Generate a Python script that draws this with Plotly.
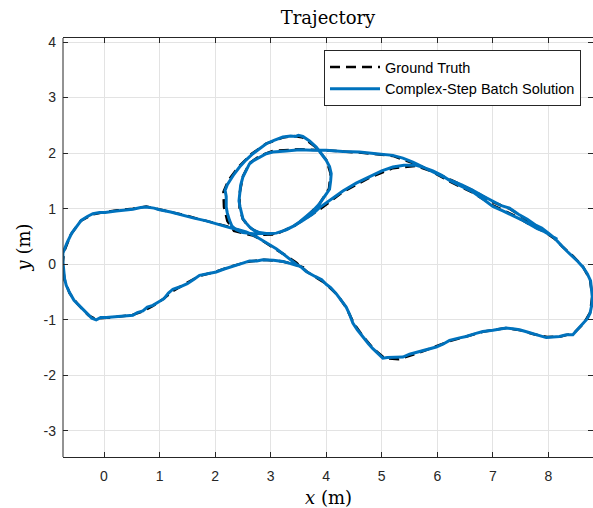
import plotly.graph_objects as go

title_text = "Trajectory"
series_names = ["Ground Truth", "Complex-Step Batch Solution"]
x_ticks = [0, 1, 2, 3, 4, 5, 6, 7, 8]
x_tick_labels = ["0", "1", "2", "3", "4", "5", "6", "7", "8"]
y_ticks = [-3, -2, -1, 0, 1, 2, 3, 4]
y_tick_labels = ["-3", "-2", "-1", "0", "1", "2", "3", "4"]

# Ground truth trajectory (x, y) in metres
gt_xy = [
    (3.60, -0.06), (3.46, -0.01), (3.22, 0.05), (2.88, 0.08), (2.62, 0.05), (2.32, -0.03),
    (2.02, -0.13), (1.72, -0.21), (1.48, -0.34), (1.26, -0.47), (1.06, -0.63), (0.88, -0.75),
    (0.70, -0.85), (0.52, -0.91), (0.20, -0.95), (-0.02, -0.97), (-0.16, -0.98), (-0.28, -0.92),
    (-0.36, -0.84), (-0.48, -0.71), (-0.62, -0.52), (-0.71, -0.28), (-0.745, 0.0), (-0.72, 0.22),
    (-0.60, 0.53), (-0.42, 0.78), (-0.20, 0.90), (0.0, 0.94), (0.24, 0.97), (0.52, 1.00),
    (0.76, 1.04), (1.0, 0.99), (1.42, 0.89), (1.84, 0.78), (2.26, 0.67), (2.56, 0.57),
    (2.76, 0.48), (2.95, 0.36), (3.12, 0.26), (3.30, 0.14), (3.46, 0.03), (3.66, -0.14),
    (3.98, -0.34), (4.20, -0.55), (4.36, -0.78), (4.50, -1.07), (4.68, -1.32), (4.86, -1.53),
    (5.05, -1.69), (5.30, -1.71), (5.68, -1.59), (5.98, -1.48), (6.24, -1.38), (6.52, -1.30),
    (6.84, -1.21), (7.24, -1.15), (7.50, -1.19), (7.74, -1.26), (7.98, -1.31), (8.22, -1.30),
    (8.46, -1.24), (8.64, -1.06), (8.75, -0.87), (8.79, -0.58), (8.75, -0.28), (8.62, -0.04),
    (8.44, 0.15), (8.26, 0.31), (8.10, 0.47), (7.88, 0.63), (7.62, 0.80), (7.30, 1.00),
    (7.00, 1.12), (6.64, 1.33), (6.22, 1.53), (5.86, 1.69), (5.62, 1.80), (5.20, 1.95),
    (4.60, 2.01), (4.00, 2.05), (3.52, 2.07), (3.04, 2.04), (2.80, 1.95), (2.62, 1.82),
    (2.50, 1.58), (2.44, 1.27), (2.44, 1.02), (2.50, 0.81), (2.62, 0.66), (2.80, 0.56),
    (3.10, 0.55), (3.40, 0.67), (3.64, 0.85), (3.88, 1.09), (4.05, 1.36), (4.08, 1.63),
    (4.00, 1.88), (3.82, 2.10), (3.58, 2.28), (3.42, 2.31), (3.22, 2.28), (2.92, 2.17),
    (2.66, 1.99), (2.42, 1.75), (2.24, 1.51), (2.15, 1.30), (2.16, 1.03), (2.22, 0.78),
    (2.34, 0.60), (2.66, 0.52), (3.10, 0.54), (3.42, 0.69), (3.90, 1.00), (4.30, 1.30),
    (4.78, 1.56), (5.20, 1.73), (5.62, 1.77), (5.90, 1.67), (6.22, 1.49), (6.64, 1.29),
    (7.00, 1.06), (7.36, 0.89), (7.66, 0.72), (7.92, 0.59), (8.15, 0.43),
]

# Complex-step batch solution (x, y) in metres
est_xy = [
    (3.55, -0.04), (3.46, -0.02), (3.30, 0.03), (3.22, 0.05), (3.05, 0.07), (2.86, 0.08),
    (2.75, 0.06), (2.62, 0.06), (2.50, 0.02), (2.32, -0.03), (2.15, -0.09), (2.02, -0.14),
    (1.86, -0.17), (1.72, -0.20), (1.62, -0.27), (1.50, -0.35), (1.36, -0.41), (1.24, -0.45),
    (1.16, -0.52), (1.08, -0.62), (0.98, -0.68), (0.88, -0.74), (0.78, -0.77), (0.70, -0.84),
    (0.60, -0.87), (0.52, -0.92), (0.36, -0.93), (0.20, -0.95), (0.04, -0.96), (-0.06, -0.96),
    (-0.14, -1.00), (-0.22, -0.97), (-0.28, -0.91), (-0.34, -0.85), (-0.44, -0.76), (-0.54, -0.65),
    (-0.62, -0.51), (-0.68, -0.38), (-0.71, -0.26), (-0.73, -0.10), (-0.74, 0.05), (-0.74, 0.20),
    (-0.66, 0.40), (-0.58, 0.56), (-0.50, 0.67), (-0.41, 0.79), (-0.30, 0.86), (-0.20, 0.91),
    (-0.08, 0.93), (0.02, 0.93), (0.22, 0.96), (0.40, 0.98), (0.52, 0.99), (0.66, 1.02),
    (0.76, 1.03), (0.90, 1.01), (1.00, 0.98), (1.20, 0.94), (1.42, 0.88), (1.62, 0.83),
    (1.84, 0.78), (2.04, 0.72), (2.26, 0.66), (2.42, 0.62), (2.56, 0.58), (2.70, 0.52),
    (2.82, 0.45), (2.95, 0.37), (3.10, 0.28), (3.22, 0.19), (3.34, 0.10), (3.40, 0.04),
    (3.46, 0.00), (3.56, -0.06), (3.64, -0.13), (3.80, -0.22), (3.92, -0.28), (4.00, -0.36),
    (4.08, -0.42), (4.18, -0.53), (4.28, -0.66), (4.36, -0.77), (4.42, -0.90), (4.48, -1.06),
    (4.56, -1.18), (4.66, -1.31), (4.76, -1.43), (4.84, -1.52), (4.94, -1.62), (5.02, -1.69),
    (5.10, -1.68), (5.26, -1.68), (5.38, -1.67), (5.50, -1.62), (5.68, -1.57), (5.84, -1.53),
    (5.98, -1.49), (6.10, -1.44), (6.22, -1.37), (6.38, -1.33), (6.52, -1.30), (6.68, -1.25),
    (6.82, -1.21), (7.00, -1.19), (7.14, -1.16), (7.24, -1.15), (7.36, -1.16), (7.48, -1.18),
    (7.62, -1.22), (7.72, -1.25), (7.86, -1.29), (7.96, -1.32), (8.08, -1.31), (8.20, -1.30),
    (8.32, -1.27), (8.44, -1.27), (8.52, -1.18), (8.62, -1.07), (8.70, -0.98), (8.75, -0.88),
    (8.78, -0.74), (8.79, -0.59), (8.78, -0.44), (8.76, -0.30), (8.70, -0.17), (8.62, -0.05),
    (8.53, 0.05), (8.44, 0.13), (8.34, 0.23), (8.26, 0.31), (8.18, 0.40), (8.11, 0.47),
    (8.00, 0.56), (7.88, 0.65), (7.76, 0.71), (7.62, 0.81), (7.46, 0.90), (7.30, 1.01),
    (7.14, 1.06), (7.00, 1.13), (6.84, 1.22), (6.64, 1.33), (6.44, 1.43), (6.22, 1.52),
    (6.04, 1.61), (5.86, 1.69), (5.70, 1.78), (5.56, 1.84), (5.38, 1.91), (5.20, 1.96),
    (4.90, 1.99), (4.60, 2.02), (4.30, 2.03), (4.00, 2.05), (3.76, 2.05), (3.52, 2.06),
    (3.28, 2.04), (3.04, 2.02), (2.92, 1.99), (2.80, 1.93), (2.70, 1.87), (2.62, 1.81),
    (2.56, 1.70), (2.50, 1.57), (2.46, 1.42), (2.44, 1.27), (2.43, 1.14), (2.45, 1.03),
    (2.47, 0.92), (2.50, 0.82), (2.56, 0.74), (2.62, 0.67), (2.70, 0.61), (2.80, 0.57),
    (2.95, 0.55), (3.10, 0.56), (3.25, 0.61), (3.40, 0.68), (3.52, 0.76), (3.64, 0.86),
    (3.77, 0.97), (3.88, 1.09), (3.96, 1.20), (4.06, 1.35), (4.08, 1.50), (4.09, 1.63),
    (4.06, 1.76), (4.00, 1.87), (3.92, 1.98), (3.82, 2.11), (3.70, 2.22), (3.62, 2.27),
    (3.58, 2.30), (3.50, 2.32), (3.45, 2.30), (3.36, 2.31), (3.22, 2.29), (3.06, 2.23),
    (2.92, 2.17), (2.80, 2.08), (2.68, 1.99), (2.56, 1.88), (2.44, 1.75), (2.34, 1.62),
    (2.27, 1.51), (2.22, 1.43), (2.18, 1.33), (2.20, 1.22), (2.20, 1.03), (2.22, 0.92),
    (2.26, 0.79), (2.30, 0.69), (2.38, 0.62), (2.50, 0.57), (2.68, 0.55), (2.90, 0.55),
    (3.10, 0.56), (3.28, 0.62), (3.42, 0.69), (3.60, 0.80), (3.75, 0.90), (3.88, 1.02),
    (4.08, 1.16), (4.30, 1.32), (4.54, 1.46), (4.78, 1.58), (5.00, 1.68), (5.20, 1.75),
    (5.40, 1.78), (5.62, 1.78), (5.76, 1.74), (5.92, 1.68), (6.08, 1.60), (6.22, 1.51),
    (6.44, 1.40), (6.64, 1.30), (6.84, 1.16), (7.00, 1.04), (7.18, 0.96), (7.36, 0.88),
    (7.52, 0.80), (7.66, 0.72), (7.80, 0.64), (7.92, 0.59), (8.05, 0.51), (8.16, 0.45),
]

gt_x = [p[0] for p in gt_xy]
gt_y = [p[1] for p in gt_xy]
est_x = [p[0] for p in est_xy]
est_y = [p[1] for p in est_xy]

W, H = 593, 508
ML, MR, MT, MB = 63, 0, 38, 51
PW, PH = W - ML - MR, H - MT - MB
PPU = 55.55
X0 = -0.738
Y0 = -3.47
X1 = X0 + PW / PPU
Y1 = Y0 + PH / PPU

AX = "#262626"
GRID = "#e3e3e3"
SANS = "Liberation Sans, Arial, sans-serif"
SERIF = "DejaVu Serif, serif"

fig = go.Figure()
fig.add_trace(go.Scatter(
    x=gt_x, y=gt_y, mode="lines", name=series_names[0],
    line=dict(color="black", width=2.5, dash="10px,6px"),
))
fig.add_trace(go.Scatter(
    x=est_x, y=est_y, mode="lines", name=series_names[1],
    line=dict(color="#0072BD", width=3),
))

fig.update_layout(
    width=W, height=H,
    margin=dict(l=ML, r=MR, t=MT, b=MB, pad=0),
    paper_bgcolor="white", plot_bgcolor="white",
    title=dict(text=title_text, x=0.5, xref="paper", xanchor="center",
               y=1 - 18 / H, yref="container", yanchor="middle",
               font=dict(family=SERIF, size=18, color="black")),
    legend=dict(x=(581 - ML) / PW, xanchor="right", y=(H - MB - 50) / PH, yanchor="top",
                bgcolor="white", bordercolor=AX, borderwidth=1,
                font=dict(family=SANS, size=14.5, color="black"),
                itemwidth=50, tracegroupgap=0),
    showlegend=True,
)

fig.update_xaxes(
    range=[X0, X1], tickmode="array", tickvals=x_ticks, ticktext=x_tick_labels,
    showgrid=True, gridcolor=GRID, gridwidth=1, zeroline=False,
    showline=True, linecolor=AX, linewidth=1, mirror="ticks",
    ticks="inside", ticklen=5, tickcolor=AX, tickwidth=1,
    tickfont=dict(family=SANS, size=14, color=AX),
    ticklabelstandoff=6,
)
fig.update_yaxes(
    range=[Y0, Y1], tickmode="array", tickvals=y_ticks, ticktext=y_tick_labels,
    showgrid=True, gridcolor=GRID, gridwidth=1, zeroline=False,
    showline=False, mirror="ticks",
    ticks="inside", ticklen=5, tickcolor=AX, tickwidth=1,
    tickfont=dict(family=SANS, size=14, color=AX),
    ticklabelstandoff=6,
)

fig.add_shape(type="line", xref="paper", yref="paper", x0=0, x1=0, y0=0, y1=1,
              line=dict(color=AX, width=1), layer="above")

fig.add_annotation(text="<i>x</i> (m)", xref="paper", yref="paper",
                   x=0.5, y=-(497 - (H - MB)) / PH, xanchor="center", yanchor="middle",
                   showarrow=False, font=dict(family=SERIF, size=18, color="black"))
fig.add_annotation(text="<i>y</i> (m)", xref="paper", yref="paper",
                   x=-(ML - 23) / PW, y=0.5, xanchor="center", yanchor="middle",
                   textangle=-90, showarrow=False,
                   font=dict(family=SERIF, size=18, color="black"))

fig.write_html("out.html")
